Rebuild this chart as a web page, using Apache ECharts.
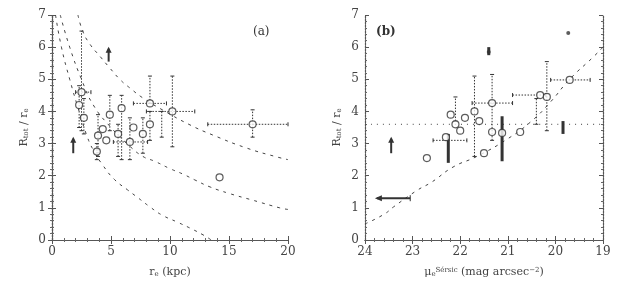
<!DOCTYPE html>
<html><head><meta charset="utf-8">
<script src="https://cdn.jsdelivr.net/npm/echarts@6/dist/echarts.min.js"></script>
<style>html,body{margin:0;padding:0;background:#fff}#c{width:627px;height:292px}</style>
</head><body><div id="c"></div>
<script>
// ---------- Panel (a) data ----------
const xTicksA = [0, 5, 10, 15, 20];
const yTicks = [0, 1, 2, 3, 4, 5, 6, 7];
const curveA1 = [[2.2,7.0],[2.6,6.5],[3.2,6.1],[4.1,5.7],[4.9,5.35],[5.8,4.98],[6.6,4.73],[7.7,4.42],[9.4,4.04],[11.7,3.58],[13.6,3.27],[16.5,2.86],[19.1,2.58],[20,2.5]];
const curveA2 = [[0.7,7.0],[1.5,6.0],[2.5,5.0],[3.5,4.2],[5.0,3.5],[6.5,2.95],[7.7,2.6],[8.7,2.45],[10.0,2.22],[11.1,2.05],[12.1,1.87],[13.4,1.65],[15.0,1.45],[17.0,1.24],[19.3,1.0],[20,0.95]];
const curveA3 = [[0.3,7.0],[0.8,6.0],[1.5,5.0],[2.3,4.0],[3.0,3.2],[3.5,2.8],[4.3,2.33],[5.3,1.88],[6.4,1.56],[7.3,1.31],[8.3,1.03],[9.3,0.78],[10.6,0.56],[11.7,0.37],[12.8,0.16],[13.5,0.0]];
const circlesA = [[2.5,4.6],[2.3,4.2],[2.7,3.8],[3.9,3.25],[3.8,2.75],[4.3,3.45],[4.9,3.9],[5.9,4.1],[5.6,3.3],[6.6,3.05],[7.7,3.3],[8.3,3.6],[8.3,4.25],[10.2,4.0],[17.0,3.6],[4.6,3.1],[6.9,3.5],[14.2,1.95]];
const errorsA = [
  [2.5,4.6,2.0,3.3,3.4,6.5],[2.3,4.2,2.3,2.3,3.5,4.8],[2.7,3.8,2.7,2.7,3.3,4.4],
  [3.9,3.25,3.9,3.9,2.6,3.9],[3.8,2.75,3.8,3.8,2.5,3.0],[4.9,3.9,4.9,4.9,3.4,4.5],
  [5.9,4.1,5.9,5.9,2.5,4.5],[5.6,3.3,5.6,5.6,2.6,3.6],[6.6,3.05,5.2,8.1,2.5,3.8],
  [7.7,3.3,7.7,7.7,2.7,3.8],[8.3,3.6,8.3,8.3,3.1,4.0],[8.3,4.25,6.9,9.7,4.25,5.1],
  [10.2,4.0,8.0,12.1,2.9,5.1],[17.0,3.6,13.2,20.0,3.2,4.05],[9.3,3.6,9.3,9.3,3.2,4.0]
];
const limitsA = [[1.8,2.7,3.15],[4.8,5.55,5.95]];
// ---------- Panel (b) data ----------
const xTicksB = [24, 23, 22, 21, 20, 19];
const refLineB = [[24,3.6],[19,3.6]];
const diagB = [[24,0.5],[23.6,0.8],[23.4,1.03],[22.9,1.55],[22.6,1.8],[22.15,2.27],[21.65,2.6],[21.0,3.15],[20.5,3.7],[20.1,4.3],[19.7,5.0],[19.2,5.7],[19.0,6.0]];
const circlesB = [[22.7,2.55],[22.1,3.6],[22.0,3.4],[21.9,3.8],[22.2,3.9],[21.7,4.0],[21.6,3.7],[21.33,4.26],[21.33,3.36],[21.12,3.33],[21.5,2.7],[20.32,4.51],[20.18,4.45],[19.7,4.98],[20.74,3.36],[22.3,3.2]];
const errorsB = [
  [21.33,4.26,21.75,20.9,3.1,5.15],[21.7,3.8,21.7,21.7,2.6,5.1],[20.32,4.51,20.9,20.2,4.51,4.51],
  [20.18,4.45,20.18,20.18,3.4,5.55],[19.7,4.98,20.1,19.27,4.98,4.98],[22.2,3.1,22.57,21.86,3.1,3.1],
  [20.4,4.1,20.4,20.4,3.6,4.4],[22.1,4.1,22.1,22.1,3.7,4.45]
];
const thickB = [[21.12,2.45,3.85],[22.25,2.4,3.3],[19.84,3.3,3.7],[21.4,5.75,6.0]];
const limitsB = [[23.45,2.7,3.15]];
const leftArrowB = [[23.05,23.75,1.3]];
const dotsB = [[19.73,6.44],[21.4,5.85]];

const ink = '#333';
function axisCommon(showLabel) {
  return {
    axisLine: {show: true, lineStyle: {color: '#555', width: 1.2, type: [2,1]}},
    axisTick: {show: true, inside: true, length: 4, lineStyle: {color: '#555'}},
    minorTick: {show: true, splitNumber: 5, length: 2, lineStyle: {color: '#666'}},
    splitLine: {show: false},
    axisLabel: {show: showLabel, color: '#444', fontFamily: 'DejaVu Serif', fontSize: 12, margin: 6}
  };
}
function xAx(gi, min, max, inverse, pos, show, name) {
  return Object.assign(axisCommon(show), {
    type: 'value', gridIndex: gi, min, max, interval: 1 * (max - min > 10 ? 5 : 1), inverse,
    position: pos, name: show ? name : '', nameLocation: 'middle', nameGap: 27,
    nameTextStyle: {color: '#444', fontFamily: 'DejaVu Serif', fontSize: 11,
      rich: {s: {fontSize: 7, color: '#444', verticalAlign: 'bottom'}, p: {fontSize: 7, color: '#444', verticalAlign: 'top'}}}
  });
}
function yAx(gi, pos, show, name) {
  return Object.assign(axisCommon(show), {
    type: 'value', gridIndex: gi, min: 0, max: 7, interval: 1, position: pos,
    name: show ? name : '', nameLocation: 'middle', nameGap: 22,
    nameTextStyle: {color: '#444', fontFamily: 'DejaVu Serif', fontSize: 11,
      rich: {s: {fontSize: 7, color: '#444', verticalAlign: 'bottom'}}}
  });
}
function errRender(dash, width) {
  return function (params, api) {
    const x = api.value(0), y = api.value(1);
    const c = api.coord([x, y]);
    const a = api.coord([api.value(2), y]), b = api.coord([api.value(3), y]);
    const lo = api.coord([x, api.value(4)]), hi = api.coord([x, api.value(5)]);
    const st = {stroke: ink, lineWidth: width, lineDash: dash};
    const ch = [];
    if (Math.abs(a[0] - b[0]) > 0.5) {
      ch.push({type: 'line', shape: {x1: a[0], y1: c[1], x2: b[0], y2: c[1]}, style: st});
      ch.push({type: 'line', shape: {x1: a[0], y1: c[1]-2, x2: a[0], y2: c[1]+2}, style: {stroke: ink, lineWidth: 1}});
      ch.push({type: 'line', shape: {x1: b[0], y1: c[1]-2, x2: b[0], y2: c[1]+2}, style: {stroke: ink, lineWidth: 1}});
    }
    if (Math.abs(lo[1] - hi[1]) > 0.5) {
      ch.push({type: 'line', shape: {x1: c[0], y1: lo[1], x2: c[0], y2: hi[1]}, style: st});
      ch.push({type: 'line', shape: {x1: c[0]-2, y1: lo[1], x2: c[0]+2, y2: lo[1]}, style: {stroke: ink, lineWidth: 1}});
      ch.push({type: 'line', shape: {x1: c[0]-2, y1: hi[1], x2: c[0]+2, y2: hi[1]}, style: {stroke: ink, lineWidth: 1}});
    }
    return {type: 'group', children: ch};
  };
}
function vbarRender(width) {
  return function (params, api) {
    const lo = api.coord([api.value(0), api.value(1)]), hi = api.coord([api.value(0), api.value(2)]);
    return {type: 'line', shape: {x1: lo[0], y1: lo[1], x2: hi[0], y2: hi[1]}, style: {stroke: ink, lineWidth: width}};
  };
}
function upArrowRender(params, api) {
  const lo = api.coord([api.value(0), api.value(1)]), hi = api.coord([api.value(0), api.value(2)]);
  return {type: 'group', children: [
    {type: 'line', shape: {x1: lo[0], y1: lo[1], x2: hi[0], y2: hi[1]}, style: {stroke: ink, lineWidth: 2}},
    {type: 'polygon', shape: {points: [[hi[0]-3, hi[1]+4], [hi[0]+3, hi[1]+4], [hi[0], hi[1]-2]]}, style: {fill: ink}}
  ]};
}
function leftArrowRender(params, api) {
  const a = api.coord([api.value(0), api.value(2)]), b = api.coord([api.value(1), api.value(2)]);
  return {type: 'group', children: [
    {type: 'line', shape: {x1: a[0], y1: a[1], x2: b[0], y2: b[1]}, style: {stroke: ink, lineWidth: 2}},
    {type: 'line', shape: {x1: a[0], y1: a[1]-3, x2: a[0], y2: a[1]+3}, style: {stroke: ink, lineWidth: 1}},
    {type: 'polygon', shape: {points: [[b[0]+5, b[1]-3], [b[0]+5, b[1]+3], [b[0]-2, b[1]]]}, style: {fill: ink}}
  ]};
}
const dashed = (data, xi, yi, type) => ({type: 'line', xAxisIndex: xi, yAxisIndex: yi, data, symbol: 'none', smooth: true,
  lineStyle: {color: '#444', width: 1, type: type || [3, 5]}, z: 1, silent: true});

const chart = echarts.init(document.getElementById('c'), null, {renderer: 'canvas'});
chart.setOption({
  animation: false,
  backgroundColor: '#fff',
  grid: [
    {left: 52, top: 15, width: 236, height: 225},
    {left: 365, top: 15, width: 238, height: 225}
  ],
  xAxis: [
    xAx(0, 0, 20, false, 'bottom', true, 'r{s|e} (kpc)'),
    xAx(0, 0, 20, false, 'top', false, ''),
    xAx(1, 19, 24, true, 'bottom', true, 'μ{s|e}{p|Sérsic} (mag arcsec{p|−2})'),
    xAx(1, 19, 24, true, 'top', false, '')
  ],
  yAxis: [
    yAx(0, 'left', true, 'R{s|tot} / r{s|e}'),
    yAx(0, 'right', false, ''),
    yAx(1, 'left', true, 'R{s|tot} / r{s|e}'),
    yAx(1, 'right', false, '')
  ],
  graphic: [
    {type: 'text', left: 253, top: 26, style: {text: '(a)', fill: '#333', font: '12px "DejaVu Serif"'}},
    {type: 'text', left: 376, top: 26, style: {text: '(b)', fill: '#333', font: 'bold 12px "DejaVu Serif"'}}
  ],
  series: [
    dashed(curveA1, 0, 0), dashed(curveA2, 0, 0), dashed(curveA3, 0, 0),
    {type: 'custom', xAxisIndex: 0, yAxisIndex: 0, data: errorsA, renderItem: errRender([1.5, 1.5], 1), z: 2},
    {type: 'custom', xAxisIndex: 0, yAxisIndex: 0, data: limitsA, renderItem: upArrowRender, z: 3},
    {type: 'scatter', xAxisIndex: 0, yAxisIndex: 0, data: circlesA, symbol: 'circle', symbolSize: 7,
      itemStyle: {color: '#fff', borderColor: ink, borderWidth: 1.2}, z: 4},
    dashed(refLineB, 2, 2, [1, 5]), dashed(diagB, 2, 2),
    {type: 'custom', xAxisIndex: 2, yAxisIndex: 2, data: errorsB, renderItem: errRender([1.5, 1.5], 1), z: 2},
    {type: 'custom', xAxisIndex: 2, yAxisIndex: 2, data: thickB, renderItem: vbarRender(3), z: 2},
    {type: 'custom', xAxisIndex: 2, yAxisIndex: 2, data: limitsB, renderItem: upArrowRender, z: 3},
    {type: 'custom', xAxisIndex: 2, yAxisIndex: 2, data: leftArrowB, renderItem: leftArrowRender, z: 3},
    {type: 'scatter', xAxisIndex: 2, yAxisIndex: 2, data: circlesB, symbol: 'circle', symbolSize: 7,
      itemStyle: {color: '#fff', borderColor: ink, borderWidth: 1.2}, z: 4},
    {type: 'scatter', xAxisIndex: 2, yAxisIndex: 2, data: dotsB, symbol: 'circle', symbolSize: 4,
      itemStyle: {color: ink}, z: 4}
  ]
});
</script></body></html>
